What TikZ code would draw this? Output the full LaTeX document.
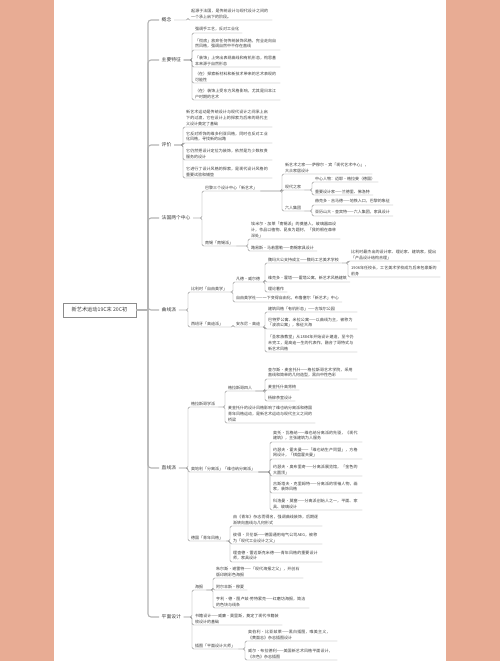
\documentclass[tikz,border=0pt]{standalone}
\usepackage{fontspec}
\setmainfont{Noto Sans CJK SC}
\XeTeXlinebreaklocale "zh"
\XeTeXlinebreakskip=0pt plus 0.5pt
\definecolor{bgpink}{RGB}{232,172,148}
\definecolor{lncol}{RGB}{140,140,140}
\definecolor{spcol}{RGB}{180,180,180}
\definecolor{txcol}{RGB}{60,60,60}
\tikzset{
  ln/.style={draw=lncol, line width=0.45pt, rounded corners=1.5pt},
  spineln/.style={draw=spcol, line width=1.1pt, rounded corners=3pt},
  txt/.style={anchor=south west, inner xsep=3pt, inner ysep=1.4pt, align=left, text=txcol, font=\fontsize{4}{5.6}\selectfont},
  lab/.style={anchor=west, inner xsep=2.5pt, inner ysep=1pt, text=txcol, font=\fontsize{4.8}{5.8}\selectfont},
  rootbox/.style={draw=lncol, line width=0.5pt, minimum width=73pt, minimum height=14pt, inner sep=1pt, text=txcol, font=\fontsize{5.2}{6}\selectfont},
}
\newcommand\mmkids[2]{\foreach \k in {#2} {\draw[ln] (#1) -| (\k.south west) -- (\k.south east);}}
\begin{document}
\begin{tikzpicture}[x=1pt,y=-1pt]
\useasboundingbox (0,0) rectangle (500,661);
\fill[bgpink] (0,0) rectangle (500,661);
\fill[white] (54,0) rectangle (446,661);

% root and level 1
\node[rootbox] (root) at (99.5,310) {新艺术运动19C末 20C初};
\coordinate (sp) at (148,310);
\node[lab] (c1) at (159,20) {概念};
\node[lab] (c2) at (159,60) {主要特征};
\node[lab] (c3) at (159,145) {评价};
\node[lab] (c4) at (159,218) {法国两个中心};
\node[lab] (c5) at (159,310) {曲线派};
\node[lab] (c6) at (159,468) {直线派};
\node[lab] (c7) at (159,617) {平面设计};
\draw[spineln] (root.east) -- (sp);
\foreach \c in {c1,c2,c3,c4,c5,c6,c7} {\draw[spineln] (sp) |- (\c.west);}

% 概念
\node[txt,text width=78pt] (k1) at (188,20) {起源于法国，是传统设计与现代设计之间的一个承上启下的阶段。};
\mmkids{c1.east}{k1}

% 主要特征
\node[txt] (t1) at (192,33) {强调手工艺，反对工业化};
\node[txt,text width=82pt] (t2) at (192,50) {「彻底」放弃任何传统装饰风格，完全走向自然风格，强调自然中不存在直线};
\node[txt,text width=82pt] (t3) at (192,67) {「装饰」上突出表现曲线和有机形态，构思基本来源于自然形态};
\node[txt,text width=82pt] (t4) at (192,83) {（在）探索新材料和新技术带来的艺术表现的可能性};
\node[txt,text width=82pt] (t5) at (192,100) {（在）装饰上受东方风格影响，尤其是日本江户时期的艺术};
\mmkids{c2.east}{t1,t2,t3,t4,t5}

% 评价
\node[txt,text width=83pt] (p1) at (183,127) {新艺术运动是传统设计与现代设计之间承上启下的过渡，它在设计上的探索为后来的现代主义设计奠定了基础};
\node[txt,text width=83pt] (p2) at (183,143) {它反对矫饰的维多利亚风格，同时也反对工业化风格，寻找新的出路};
\node[txt,text width=83pt] (p3) at (183,160) {它仍然把设计定位为装饰，依然是为少数权贵服务的设计};
\node[txt,text width=83pt] (p4) at (183,178) {它进行了设计风格的探索，是现代设计风格的重要试验和铺垫};
\mmkids{c3.east}{p1,p2,p3,p4}

% 法国两个中心
\node[txt] (f1) at (202,191) {巴黎三个设计中心「新艺术」};
\node[txt] (f2) at (202,246) {南锡「南锡派」};
\mmkids{c4.east}{f1,f2}
\node[txt,text width=84pt] (f1a) at (282,174) {新艺术之家——萨穆尔·宾「现代艺术中心」，大众家居设计};
\node[txt] (f1b) at (282,190) {现代之家};
\node[txt] (f1c) at (282,211) {六人集团};
\mmkids{f1.south east}{f1a,f1b,f1c}
\node[txt] (f1b1) at (312,182) {中心人物：迈耶·格拉斐（德国）};
\node[txt] (f1b2) at (312,195) {重要设计家——兰德里、佛洛特};
\mmkids{f1b.south east}{f1b1,f1b2}
\node[txt] (f1c1) at (312,205) {赫克多·吉马德——地铁入口，巴黎的象征};
\node[txt] (f1c2) at (312,216) {亚历山大·查宾特——六人集团，家具设计};
\mmkids{f1c.south east}{f1c1,f1c2}
\node[txt,text width=86pt] (f2a) at (248,239) {埃米尔·加莱「南锡派」的奠基人，玻璃器皿设计，作品以植物、昆虫为题材，「我的根在森林深处」};
\node[txt] (f2b) at (248,251) {路易斯·马若雷勒——南锡家具设计};
\mmkids{f2.south east}{f2a,f2b}

% 曲线派
\node[txt] (b) at (188,292) {比利时「自由美学」};
\node[txt] (s) at (188,327) {西班牙「高迪派」};
\mmkids{c5.east}{b,s}
\node[txt] (b1) at (233,282) {凡德·威尔德};
\node[txt] (b2) at (233,302) {自由美学社——一下变得自由化，布鲁塞尔「新艺术」中心};
\mmkids{b.south east}{b1,b2}
\node[txt] (b1a) at (265,263) {魏玛大公支持成立——魏玛工艺美术学校};
\node[txt] (b1b) at (265,282) {维克多·霍塔——霍塔公寓，新艺术风格建筑};
\node[txt] (b1c) at (265,292) {理论著作};
\mmkids{b1.south east}{b1a,b1b,b1c}
\node[txt,text width=86pt] (b1a1) at (348,261) {比利时最杰出的设计家、理论家、建筑家，提出「产品设计结构合理」};
\node[txt,text width=86pt] (b1a2) at (348,277) {1906年任校长，工艺美术学校成为后来包豪斯的前身};
\mmkids{b1a.south east}{b1a1,b1a2}
\node[txt] (s1) at (233,327) {安东尼·高迪};
\mmkids{s.south east}{s1}
\node[txt,text width=86pt] (s1a) at (265,312) {建筑风格「有机形态」——古埃尔公园};
\node[txt,text width=86pt] (s1b) at (265,329) {巴特罗公寓、米拉公寓——以曲线为主，被称为「波浪公寓」，象征大海};
\node[txt,text width=86pt] (s1c) at (265,352) {「圣家族教堂」从1884年开始设计建造，至今仍未完工，是高迪一生的代表作，融合了哥特式与新艺术风格};
\mmkids{s1.south east}{s1a,s1b,s1c}

% 直线派
\node[txt] (sc) at (188,407) {格拉斯哥学派};
\node[txt] (au) at (188,472) {奥地利「分离派」「维也纳分离派」};
\node[txt] (de) at (188,541) {德国「青年风格」};
\mmkids{c6.east}{sc,au,de}
\node[txt] (gf) at (225,391) {格拉斯哥四人};
\node[txt,text width=84pt] (sc2) at (225,423) {麦金托什的设计风格影响了维也纳分离派和德国青年风格运动，是新艺术运动与现代主义之间的桥梁};
\mmkids{sc.south east}{gf,sc2}
\node[txt,text width=86pt] (gf1) at (265,379) {查尔斯·麦金托什——格拉斯哥艺术学院，采用直线和简单的几何造型，黑白中性色彩};
\node[txt] (gf2) at (265,390) {麦金托什高背椅};
\node[txt] (gf3) at (265,401) {杨柳茶室设计};
\mmkids{gf.south east}{gf1,gf2,gf3}
\node[txt,text width=86pt] (au1) at (270,442) {奥托·瓦格纳——维也纳分离派的先驱，《现代建筑》，主张建筑为人服务};
\node[txt,text width=86pt] (au2) at (270,459) {约瑟夫·霍夫曼——「维也纳生产同盟」，方格网设计，「棋盘霍夫曼」};
\node[txt,text width=86pt] (au3) at (270,476) {约瑟夫·奥布里奇——分离派展览馆，「金色的大圆顶」};
\node[txt,text width=86pt] (au4) at (270,493) {古斯塔夫·克里姆特——分离派的领袖人物，画家，装饰风格};
\node[txt,text width=86pt] (au5) at (270,510) {科洛曼·莫塞——分离派创始人之一，平面、家具、玻璃设计};
\mmkids{au.south east}{au1,au2,au3,au4,au5}
\node[txt,text width=86pt] (de1) at (230,526) {由《青年》杂志而得名，强调曲线装饰，后期逐渐转向直线与几何形式};
\node[txt,text width=86pt] (de2) at (230,544) {彼得·贝伦斯——德国通用电气公司AEG，被称为「现代工业设计之父」};
\node[txt,text width=86pt] (de3) at (230,562) {理查德·雷迈斯克米德——青年风格的重要设计师，家具设计};
\mmkids{de.south east}{de1,de2,de3}

% 平面设计
\node[txt] (po) at (192,590) {海报};
\node[txt,text width=84pt] (bk) at (192,625) {书籍设计——威廉·莫里斯，奠定了现代书籍装帧设计的基础};
\node[txt] (il) at (192,649) {插图「平面设计大师」};
\mmkids{c7.east}{po,bk,il}
\node[txt,text width=84pt] (po1) at (213,578) {朱尔斯·谢雷特——「现代海报之父」，开创石版印刷彩色海报};
\node[txt] (po2) at (213,590) {阿尔丰斯·穆夏};
\node[txt,text width=90pt] (po3) at (213,608) {亨利·德·图卢兹-劳特累克——红磨坊海报，简洁的色块与线条};
\mmkids{po.south east}{po1,po2,po3}
\node[txt,text width=86pt] (il1) at (245,641) {奥伯利·比亚兹莱——黑白插图，唯美主义，《黄面志》杂志插图设计};
\node[txt,text width=86pt] (il2) at (245,660) {威尔·布拉德利——美国新艺术风格平面设计，《灰色》杂志插图};
\mmkids{il.south east}{il1,il2}
\end{tikzpicture}
\end{document}
